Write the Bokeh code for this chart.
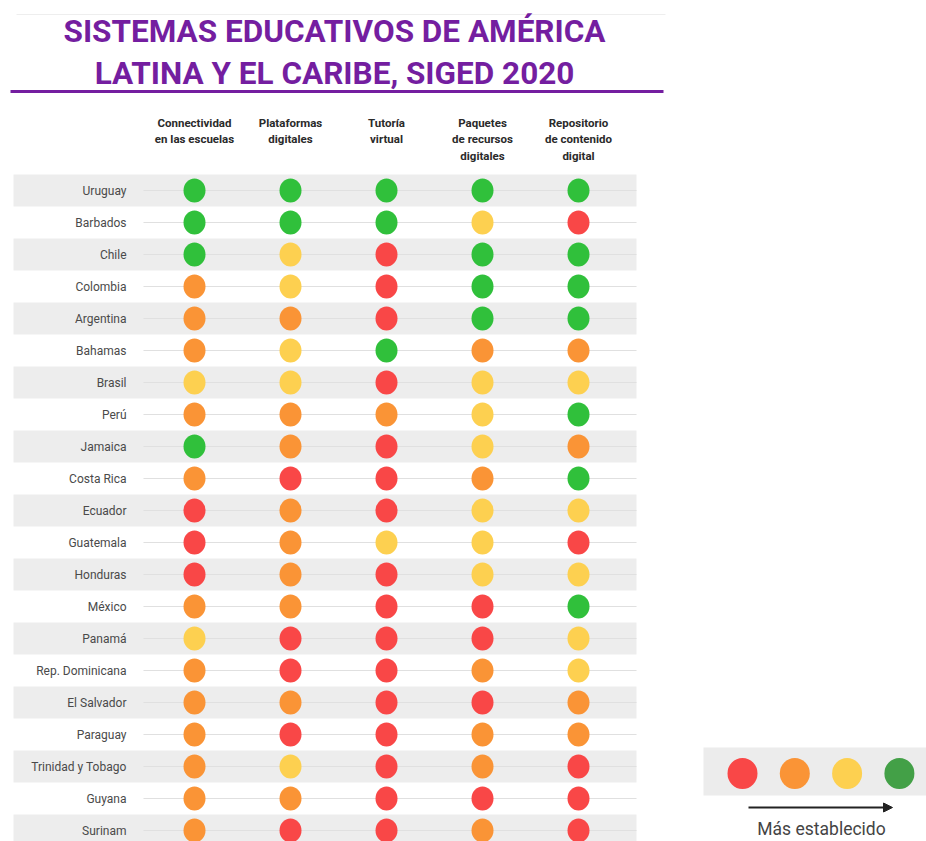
from bokeh.plotting import figure
from bokeh.models import Range1d, Arrow, NormalHead
from bokeh.core.properties import value
from bokeh.embed import file_html
from bokeh.resources import INLINE

title_lines = ["SISTEMAS EDUCATIVOS DE AMÉRICA", "LATINA Y EL CARIBE, SIGED 2020"]
countries = ["Uruguay", "Barbados", "Chile", "Colombia", "Argentina", "Bahamas", "Brasil",
             "Perú", "Jamaica", "Costa Rica", "Ecuador", "Guatemala", "Honduras", "México",
             "Panamá", "Rep. Dominicana", "El Salvador", "Paraguay", "Trinidad y Tobago",
             "Guyana", "Surinam"]
indicators = ["Connectividad\nen las escuelas", "Plataformas\ndigitales", "Tutoría\nvirtual",
              "Paquetes\nde recursos\ndigitales", "Repositorio\nde contenido\ndigital"]
# levels: 1 = red, 2 = orange, 3 = yellow, 4 = green (más establecido)
conectividad = [4, 4, 4, 2, 2, 2, 3, 2, 4, 2, 1, 1, 1, 2, 3, 2, 2, 2, 2, 2, 2]
plataformas  = [4, 4, 3, 3, 2, 3, 3, 2, 2, 1, 2, 2, 2, 2, 1, 1, 2, 1, 3, 2, 1]
tutoria      = [4, 4, 1, 1, 1, 4, 1, 2, 1, 1, 1, 3, 1, 1, 1, 1, 1, 1, 1, 1, 1]
paquetes     = [4, 3, 4, 4, 4, 2, 3, 3, 3, 2, 3, 3, 3, 1, 1, 2, 1, 2, 2, 1, 2]
repositorio  = [4, 1, 4, 4, 4, 2, 3, 4, 2, 4, 3, 1, 3, 4, 3, 3, 2, 2, 1, 1, 1]
series = [conectividad, plataformas, tutoria, paquetes, repositorio]
legend_levels = [1, 2, 3, 4]
legend_label = "Más establecido"

level_colors = {1: "#f94747", 2: "#fa9436", 3: "#fdd050", 4: "#30c03b"}
legend_colors = {1: "#f94747", 2: "#fa9436", 3: "#fdd050", 4: "#43a047"}

# layout (page pixels)
W, H = 926, 841
ROW0, ROWSTEP = 190, 32
COL0, COLSTEP = 194, 96
LABEL_X = 126
PURPLE = "#741ea0"

p = figure(width=W, height=H, x_range=Range1d(0, W), y_range=Range1d(H, 0),
           output_backend="svg", toolbar_location=None, min_border=0,
           outline_line_color=None, background_fill_color="white")
p.axis.visible = False
p.grid.visible = False

row_y = [ROW0 + i * ROWSTEP for i in range(len(countries))]
col_x = [COL0 + j * COLSTEP for j in range(len(indicators))]

# faint top rule
p.segment(x0=[16], y0=[14], x1=[665], y1=[14], line_color="#eeeeee", line_width=1)

# title
p.text(x=[334, 334], y=[31, 73], text=title_lines, text_align="center", text_baseline="middle",
       text_font=value("Roboto"), text_font_style="bold",
       text_font_size=value("31.5px"), text_color=PURPLE)
p.segment(x0=[10], y0=[91], x1=[663], y1=[91], line_color=PURPLE, line_width=3)

# zebra bands
band_y = [row_y[i] for i in range(0, len(countries), 2)]
p.rect(x=[(13 + 636) / 2] * len(band_y), y=band_y, width=636 - 13, height=ROWSTEP,
       fill_color="#ededed", line_color=None)

# row lines
p.segment(x0=[143] * len(row_y), y0=row_y, x1=[636] * len(row_y), y1=row_y,
          line_color="#e0e0e0", line_width=1.2)

# column headers
p.text(x=col_x, y=[115] * len(col_x), text=indicators, text_align="center", text_baseline="top",
       text_font=value("Roboto"), text_font_style="bold", text_font_size=value("11.5px"),
       text_color="#2a2a2a", text_line_height=1.2)

# country labels
p.text(x=[LABEL_X] * len(countries), y=row_y, text=countries, text_align="right",
       text_baseline="middle", text_font=value("Roboto"), text_font_size=value("12px"),
       text_color="#4a4a4a")

# dots
xs, ys, cs = [], [], []
for j, vals in enumerate(series):
    for i, v in enumerate(vals):
        xs.append(col_x[j])
        ys.append(row_y[i])
        cs.append(level_colors[v])
p.ellipse(x=xs, y=ys, width=22, height=24, fill_color=cs, line_color=None)

# legend
p.rect(x=[(703 + 926) / 2], y=[771], width=926 - 703, height=48, fill_color="#ececec", line_color=None)
leg_x = [742 + k * 52.3 for k in range(len(legend_levels))]
p.ellipse(x=leg_x, y=[773] * len(leg_x), width=30, height=31,
          fill_color=[legend_colors[l] for l in legend_levels], line_color=None)
p.add_layout(Arrow(end=NormalHead(size=9, fill_color="#222222", line_color="#222222"),
                   x_start=748, y_start=807, x_end=892, y_end=807,
                   line_color="#222222", line_width=2))
p.text(x=[821], y=[828], text=[legend_label], text_align="center", text_baseline="middle",
       text_font=value("Roboto"), text_font_size=value("17.5px"), text_color="#444444")

open("out.html", "w").write(file_html(p, INLINE))
